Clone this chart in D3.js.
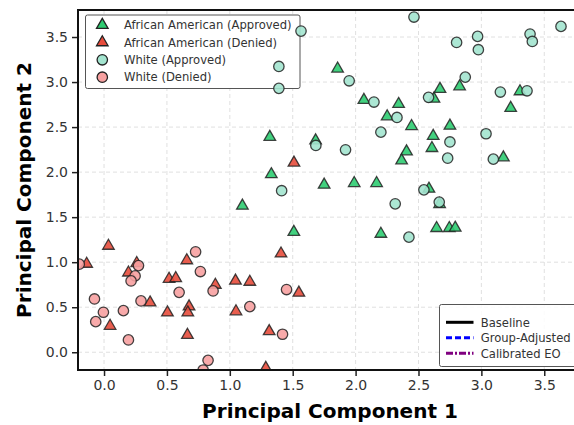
<!DOCTYPE html>
<html>
<head>
	<meta charset="UTF-8" />
	<title>pca scatter</title>
	<script src="https://d3js.org/d3.v7.min.js"></script>
	<style>
		body { margin: 0; background: #fff; }
		text { font-family: "DejaVu Sans", sans-serif; }
	</style>
</head>
<body>
	<svg id="chart" width="574" height="425"></svg>

	<script type="text/javascript">
	// points, [pc1, pc2]
	var aaApproved = [
		[1.857,3.148],[2.066,2.80],[2.342,2.755],[2.251,2.618],[2.445,2.51],[2.671,2.922],
		[2.623,2.814],[2.827,2.951],[3.307,2.896],[3.233,2.711],[2.75,2.514],[2.617,2.40],
		[2.607,2.266],[2.405,2.229],[2.366,2.129],[1.318,2.39],[1.682,2.351],[3.175,2.162],
		[1.33,1.975],[1.75,1.859],[1.989,1.877],[2.167,1.877],[2.583,1.814],[2.668,1.644],
		[1.1,1.626],[1.509,1.335],[2.201,1.314],[2.644,1.378],[2.745,1.378],[2.792,1.381]
	]
	var aaDenied = [
		[0.035,1.181],[-0.138,0.981],[0.26,0.989],[0.194,0.884],[0.517,0.814],[0.57,0.822],
		[0.658,1.02],[0.048,0.292],[0.366,0.551],[0.504,0.44],[0.676,0.507],[0.666,0.44],
		[0.663,0.192],[0.885,0.748],[1.045,0.794],[1.159,0.781],[1.049,0.453],[1.313,0.233],
		[1.286,-0.175],[1.407,1.095],[1.549,0.66],[1.51,2.104]
	]
	var whiteApproved = [
		[2.58,2.83],[2.872,3.055],[3.363,2.903],[3.095,2.144],[1.684,2.296],[2.424,1.278],
		[2.315,1.648],[1.412,1.794],[2.543,1.803],[2.665,1.667],[1.92,2.248],[2.75,2.335],
		[2.732,2.155],[3.037,2.426],[2.201,2.444],[2.329,2.607],[2.146,2.778],[1.949,3.014],
		[1.39,3.173],[1.39,2.93],[1.566,3.566],[2.464,3.722],[2.803,3.44],[2.97,3.507],
		[2.976,3.359],[3.387,3.533],[3.405,3.451],[3.633,3.618],[3.151,2.889]
	]
	var whiteDenied = [
		[-0.197,0.978],[0.274,0.962],[0.247,0.848],[0.215,0.792],[0.597,0.665],[0.728,1.115],
		[0.766,0.896],[-0.076,0.592],[-0.005,0.444],[-0.066,0.34],[0.154,0.462],[0.194,0.137],
		[0.294,0.57],[0.867,0.681],[1.159,0.507],[1.419,0.2],[1.451,0.696],[0.827,-0.09],[0.788,-0.197]
	]
	var xTicks = [0, 0.5, 1, 1.5, 2, 2.5, 3, 3.5]
	var yTicks = [0, 0.5, 1, 1.5, 2, 2.5, 3, 3.5]

	var groups = [
		{name: "African American (Approved)", pts: aaApproved, shape: "tri", fill: "#2ecc71"},
		{name: "African American (Denied)", pts: aaDenied, shape: "tri", fill: "#e74c3c"},
		{name: "White (Approved)", pts: whiteApproved, shape: "circ", fill: "#a3e4cf"},
		{name: "White (Denied)", pts: whiteDenied, shape: "circ", fill: "#f7a1a1"}
	]
	var lines = [
		{name: "Baseline", color: "#000", dash: null},
		{name: "Group-Adjusted", color: "#0000ff", dash: "6,3"},
		{name: "Calibrated EO", color: "#800080", dash: "7,2,2,2"}
	]

	// plot box (window.top is taken, so m-prefixed names)
	var mLeft = 78, mRight = 582, mTop = 10, mBottom = 370
	var x = d3.scaleLinear().domain([-0.207, 3.8]).range([mLeft, mRight])
	var y = d3.scaleLinear().domain([-0.197, 3.8]).range([mBottom, mTop])

	var svg = d3.select("#chart")

	svg.append("clipPath").attr("id", "clip")
		.append("rect").attr("x", mLeft).attr("y", mTop)
		.attr("width", mRight - mLeft).attr("height", mBottom - mTop)

	// grid
	var grid = svg.append("g").style("stroke", "#dcdcdc").style("stroke-dasharray", "4,3").style("stroke-width", 0.9)
	grid.selectAll(".gx").data(xTicks).enter().append("line")
		.attr("x1", d=>x(d)).attr("x2", d=>x(d)).attr("y1", mTop).attr("y2", mBottom)
	grid.selectAll(".gy").data(yTicks).enter().append("line")
		.attr("y1", d=>y(d)).attr("y2", d=>y(d)).attr("x1", mLeft).attr("x2", mRight)

	var tri = d3.symbol().type(d3.symbolTriangle).size(58)

	function drawMarker(sel, g) {
		if (g.shape == "tri") {
			sel.append("path").attr("d", tri)
		} else {
			sel.append("circle").attr("r", 5.2)
		}
	}

	// legend 1 (points sit on top of it in the picture)
	var lg = svg.append("g")
	lg.append("rect").attr("x", 85.5).attr("y", 15).attr("width", 214.5).attr("height", 73.5)
		.attr("rx", 2).style("fill", "#fff")
		.style("stroke", "#555").style("stroke-width", 1)
	groups.forEach((g, i)=>{
		var ry = 25 + i * 17.4
		var m = lg.append("g").attr("transform", "translate(102.3," + ry + ")")
		drawMarker(m, g)
		m.selectAll("path,circle").style("fill", g.fill).style("stroke", "#222").style("stroke-width", 1.3)
		lg.append("text").attr("x", 124).attr("y", ry + 4.2).style("font-size", "11.6px").style("fill", "#333")
			.text(g.name)
	})

	var plot = svg.append("g").attr("clip-path", "url(#clip)")
	groups.forEach(g=>{
		var m = plot.selectAll(null).data(g.pts).enter().append("g")
			.attr("transform", d=>"translate(" + x(d[0]) + "," + y(d[1]) + ")")
		drawMarker(m, g)
		m.selectAll("path,circle")
			.style("fill", g.fill).style("fill-opacity", 0.9)
			.style("stroke", "#222").style("stroke-width", 1.3).style("stroke-opacity", 0.85)
	})

	// axes
	var xAxis = svg.append("g").attr("transform", "translate(0," + mBottom + ")")
		.call(d3.axisBottom(x).tickValues(xTicks).tickFormat(d3.format(".1f")).tickSize(6).tickPadding(4))
	var yAxis = svg.append("g").attr("transform", "translate(" + mLeft + ",0)")
		.call(d3.axisLeft(y).tickValues(yTicks).tickFormat(d3.format(".1f")).tickSize(6).tickPadding(4))
	;[xAxis, yAxis].forEach(a=>{
		a.select(".domain").remove()
		a.selectAll(".tick line").style("stroke", "#222").style("stroke-width", 1.5)
		a.selectAll(".tick text").style("font-size", "14px").style("fill", "#333")
			.style("font-family", "DejaVu Sans")
	})

	// spines
	var sp = svg.append("g").style("stroke", "#111").style("stroke-width", 2).style("fill", "none")
	sp.append("line").attr("x1", mLeft).attr("x2", mLeft).attr("y1", mTop - 1).attr("y2", mBottom + 1)
	sp.append("line").attr("x1", mLeft - 1).attr("x2", mRight).attr("y1", mBottom).attr("y2", mBottom)
	sp.append("line").attr("x1", mLeft - 1).attr("x2", mRight).attr("y1", mTop).attr("y2", mTop)

	svg.append("text").attr("x", (mLeft + mRight) / 2).attr("y", 418)
		.attr("text-anchor", "middle").style("font-size", "20px").style("font-weight", "bold")
		.text("Principal Component 1")
	svg.append("text").attr("transform", "translate(31," + (mTop + mBottom) / 2 + ") rotate(-90)")
		.attr("text-anchor", "middle").style("font-size", "20px").style("font-weight", "bold")
		.text("Principal Component 2")

	// legend 2
	var lg2 = svg.append("g")
	lg2.append("rect").attr("x", 439.5).attr("y", 304.5).attr("width", 150).attr("height", 62)
		.attr("rx", 2).style("fill", "#fff").style("fill-opacity", 0.85)
		.style("stroke", "#555").style("stroke-width", 1)
	lines.forEach((l, i)=>{
		var ry = 322.3 + i * 15.5
		lg2.append("line").attr("x1", 446).attr("x2", 473.5).attr("y1", ry).attr("y2", ry)
			.style("stroke", l.color).style("stroke-width", 3).style("stroke-dasharray", l.dash)
		lg2.append("text").attr("x", 480.7).attr("y", ry + 4.2).style("font-size", "11.6px").style("fill", "#333")
			.text(l.name)
	})
	</script>
</body>
</html>
